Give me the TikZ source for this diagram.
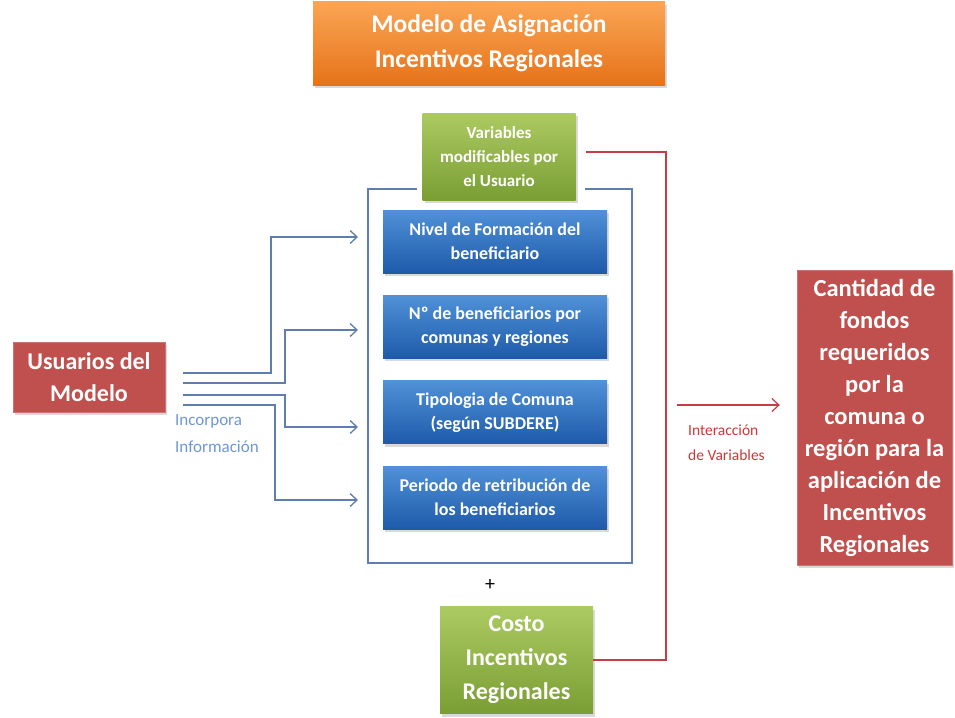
\documentclass[tikz,border=0pt]{standalone}
\usepackage{fontspec}
\setmainfont{Carlito}
\usetikzlibrary{positioning,shadows,arrows.meta}
\definecolor{orangeTop}{RGB}{250,165,85}
\definecolor{orangeBot}{RGB}{230,115,25}
\definecolor{greenTop}{RGB}{172,202,98}
\definecolor{greenBot}{RGB}{122,158,52}
\definecolor{blueTop}{RGB}{80,145,215}
\definecolor{blueBot}{RGB}{30,90,170}
\definecolor{boxred}{RGB}{192,80,77}
\definecolor{linkblue}{RGB}{95,125,175}
\definecolor{linkred}{RGB}{200,60,70}
\definecolor{infoblue}{RGB}{110,150,215}
\definecolor{interred}{RGB}{205,55,55}
\begin{document}
\begin{tikzpicture}[x=1pt, y=-1pt,
  box/.style = {align=center, text=white, inner sep=0pt, drop shadow={opacity=0.3, shadow xshift=2pt, shadow yshift=-3pt}},
  bluebox/.style = {box, top color=blueTop, bottom color=blueBot, minimum width=224pt, minimum height=63pt, font=\fontsize{18}{24}\selectfont\bfseries},
  greenbox/.style = {box, top color=greenTop, bottom color=greenBot, minimum width=153pt},
  redbox/.style = {box, fill=boxred, draw=boxred!80!white, font=\fontsize{24.5}{32}\selectfont\bfseries},
  bluelink/.style = {draw=linkblue, line width=1.3pt},
  redlink/.style = {draw=linkred, line width=1.2pt},
  tip/.style = {-{Straight Barb[length=7pt,width=13pt]}}]
\useasboundingbox (0,0) rectangle (955,717);

\node[box, top color=orangeTop, bottom color=orangeBot, minimum width=352pt, minimum height=83pt, font=\fontsize{25.5}{35}\selectfont\bfseries] (title) at (489,43.5) {Modelo de Asignación\\Incentivos Regionales};

\node[greenbox, minimum height=87pt, font=\fontsize{17}{24}\selectfont\bfseries] (vars) at (499,156.5) {Variables\\modificables por\\el Usuario};

\node[bluebox] (b1) at (495,241.5) {Nivel de Formación del\\beneficiario};
\node[bluebox] (b2) [below=22pt of b1] {Nº de beneficiarios por\\comunas y regiones};
\node[bluebox] (b3) [below=22pt of b2] {Tipologia de Comuna\\(según SUBDERE)};
\node[bluebox] (b4) [below=22pt of b3] {Periodo de retribución de\\los beneficiarios};

\draw[bluelink] (417,189) -| (368,563) -| (632,189) -- (585,189);

\node[font=\fontsize{20}{24}\selectfont] (plus) at (490,585) {+};
\node[greenbox, minimum height=107pt, font=\fontsize{24}{34}\selectfont\bfseries] (cost) at (516.5,660) {Costo\\Incentivos\\Regionales};

\node[redbox, minimum width=152pt, minimum height=70pt, font=\fontsize{24}{32}\selectfont\bfseries] (usr) at (89,377) {Usuarios del\\Modelo};
\node[redbox, minimum width=155pt, minimum height=295pt] (fondos) at (874.5,417.5) {Cantidad de\\fondos\\requeridos\\por la\\comuna o\\región para la\\aplicación de\\Incentivos\\Regionales};

% entradas del usuario
\foreach \ys/\xm/\ye [count=\i] in {373/271/237, 383/285/330, 395/285/427, 405/275/500} {
  \coordinate (in\i) at (183,\ys);
  \coordinate (out\i) at (358,\ye);
  \draw[bluelink, tip] (in\i) -| (\xm,\ye) -- (out\i);
}
\node[anchor=north west, inner sep=0pt, align=left, text=infoblue, font=\fontsize{17}{27}\selectfont] (info) at (175,414) {Incorpora\\Información};

% interaccion
\coordinate (rk) at (666,152);
\draw[redlink, shorten <=10pt] (vars.east |- rk) -- (rk) |- (cost.east);
\coordinate (ia) at (677,405);
\draw[redlink, tip, shorten >=17pt] (ia) -- (ia -| fondos.west);
\node[anchor=north west, inner sep=0pt, align=left, text=interred, font=\fontsize{15.5}{25}\selectfont] (inter) at (688,425) {Interacción\\de Variables};
\end{tikzpicture}
\end{document}
